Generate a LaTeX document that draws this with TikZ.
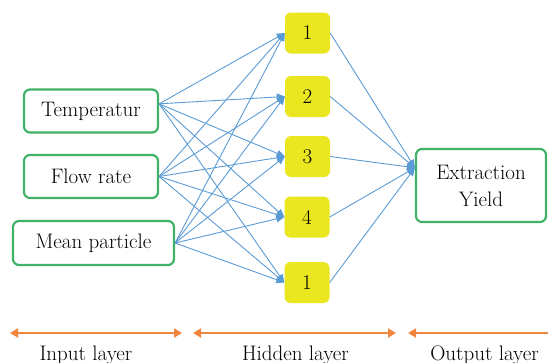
\documentclass[tikz,border=0pt]{standalone}
\usetikzlibrary{arrows.meta}
\definecolor{boxgreen}{RGB}{64,178,104}
\definecolor{hidyellow}{RGB}{234,230,32}
\definecolor{linkblue}{RGB}{91,155,213}
\definecolor{layerorange}{RGB}{240,133,62}
\begin{document}
\begin{tikzpicture}[x=1pt,y=-1pt,
  inbox/.style={draw=boxgreen, line width=2.2pt, rounded corners=6pt, fill=white, inner sep=0pt, align=center, font=\fontsize{21}{27}\selectfont},
  hid/.style={fill=hidyellow, rounded corners=6pt, minimum width=45pt, minimum height=41pt, inner sep=0pt, font=\fontsize{21}{24}\selectfont},
  link/.style={draw=linkblue, line width=0.9pt, -{Triangle[length=8pt,width=7pt]}},
  layerarrow/.style={draw=layerorange, line width=2.4pt, {Triangle[length=8pt,width=9pt]}-{Triangle[length=8pt,width=9pt]}},
  lab/.style={font=\fontsize{21}{24}\selectfont, anchor=base, inner sep=0pt}]
\useasboundingbox (0,0) rectangle (548,362);
\clip (0,0) rectangle (548,362);

% input layer
\node[inbox, minimum width=134pt, minimum height=43pt] (t) at (91,111) {Temperatur};
\node[inbox, minimum width=134pt, minimum height=43pt] (f) at (91,176.5) {Flow rate};
\node[inbox, minimum width=161pt, minimum height=44pt] (m) at (93.5,243) {Mean particle};

% hidden layer
\node[hid] (h1) at (307.5,33) {1};
\node[hid] (h2) at (307.5,96.5) {2};
\node[hid] (h3) at (307.5,156.5) {3};
\node[hid] (h4) at (307,217) {4};
\node[hid] (h5) at (307,282.5) {1};

% output layer
\node[inbox, minimum width=130pt, minimum height=73pt] (o) at (481,185.5) {Extraction\\Yield};

% connections
\foreach \s/\a in {t/6,f/0,m/0}{
  \foreach \h in {h1,h2,h3,h4,h5}{
    \draw[link] (\s.\a) -- (\h.west);
  }
}
\foreach \h in {h1,h2,h3,h4,h5}{
  \draw[link] (\h.east) -- (o.165);
}

% layer arrows
\coordinate (a1l) at (10,333);
\coordinate (a1r) at (182,333);
\coordinate (a2l) at (193,333);
\coordinate (a2r) at (396,333);
\coordinate (a3l) at (408,333);
\coordinate (a3r) at (600,333);
\draw[layerarrow] (a1l) -- (a1r);
\draw[layerarrow] (a2l) -- (a2r);
\draw[draw=layerorange, line width=2.4pt, {Triangle[length=8pt,width=9pt]}-] (a3l) -- (a3r);

\node[lab] (l1) at (86,360) {Input layer};
\node[lab] (l2) at (295.5,360) {Hidden layer};
\node[lab] (l3) at (484.5,360) {Output layer};
\end{tikzpicture}
\end{document}
